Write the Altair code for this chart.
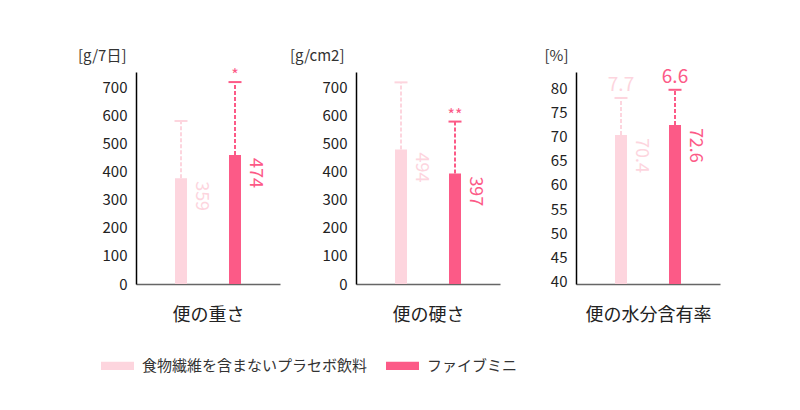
import altair as alt
import pandas as pd

groups = ["食物繊維を含まないプラセボ飲料", "ファイブミニ"]

weight_bar = [378, 461]
weight_top = [582, 721]
weight_lab = ["359", "474"]
weight_mark = ["", "*"]

hard_bar = [480, 395]
hard_top = [720, 580]
hard_lab = ["494", "397"]
hard_mark = ["", "**"]

water_bar = [70.4, 72.5]
water_top = [78.1, 79.8]
water_lab = ["70.4", "72.6"]
water_mark = ["7.7", "6.6"]

bar_colors = ["#fdd5de", "#fc5a87"]
text_colors = ["#fdd5de", "#f7739a"]
FONT = "Noto Sans CJK JP"


def panel(vals, tops, labs, marks, dom, ticks, unit, name, mark_size, mark_dy, title_x):
    df = pd.DataFrame({"group": groups, "value": vals, "top": tops,
                       "label": labs, "mark": marks})
    color = alt.Color("group:N", sort=groups,
                      scale=alt.Scale(domain=groups, range=bar_colors),
                      legend=alt.Legend(orient="none", legendX=-35, legendY=277,
                                        direction="horizontal", title=None,
                                        symbolType="M-1,-0.25H1V0.25H-1Z",
                                        symbolSize=1089, symbolOpacity=1,
                                        symbolStrokeWidth=0,
                                        labelFontSize=15,
                                        labelColor="#333", labelOffset=8,
                                        labelLimit=0,
                                        columnPadding=18, labelFont=FONT))
    tcolor = alt.Color("group:N", sort=groups,
                       scale=alt.Scale(domain=groups, range=text_colors),
                       legend=None)
    base = alt.Chart(df).encode(
        x=alt.X("group:N", sort=groups,
                scale=alt.Scale(paddingOuter=1 / 3, paddingInner=0),
                axis=alt.Axis(title=name, labels=False, ticks=False,
                              domainColor="#666", domainWidth=1.5,
                              titleFontSize=18, titleFontWeight="normal",
                              titleColor="#222", titlePadding=22, titleFont=FONT))
    )
    yax = alt.Axis(values=ticks, title=unit, titleAngle=0, titleAlign="right",
                   titleX=title_x, titleY=-12, titleBaseline="alphabetic",
                   titleFontSize=15, titleFontWeight="normal", titleColor="#333",
                   ticks=False, grid=False, labelPadding=9, domainColor="#000",
                   domainWidth=1.5, labelFontSize=15, labelColor="#222",
                   labelOverlap=False, labelFont=FONT, titleFont=FONT)
    ysc = alt.Scale(domain=dom, nice=False, zero=False)

    def Y(f):
        return alt.Y(f, scale=ysc, axis=yax)

    bars = base.mark_bar(size=12, opacity=1).encode(
        y=Y("value:Q"), y2=alt.datum(dom[0]), color=color)
    rule = base.mark_rule(strokeDash=[4, 2], strokeWidth=2).encode(
        y=Y("value:Q"), y2="top:Q", color=color)
    cap = base.mark_tick(size=13, thickness=2, opacity=1).encode(y=Y("top:Q"), color=color)
    vlab = base.mark_text(angle=90, align="left", baseline="middle", dx=3, dy=-20,
                          fontSize=18, font=FONT).encode(
        y=Y("value:Q"), text="label:N", color=tcolor)
    tlab = base.mark_text(baseline="alphabetic", dy=mark_dy, fontSize=mark_size,
                          font=FONT).encode(
        y=Y("top:Q"), text="mark:N", color=tcolor)
    return alt.layer(bars, rule, cap, vlab, tlab).properties(width=144, height=212)


p1 = panel(weight_bar, weight_top, weight_lab, weight_mark, [0, 757],
           list(range(0, 701, 100)), "[g/7日]", "便の重さ", 16, -1, -10)
p2 = panel(hard_bar, hard_top, hard_lab, hard_mark, [0, 757],
           list(range(0, 701, 100)), "[g/cm2]", "便の硬さ", 16, -1, -12)
p3 = panel(water_bar, water_top, water_lab, water_mark, [39.4, 83.5],
           list(range(40, 81, 5)), "[%]", "便の水分含有率", 19, -7, -8)

chart = alt.hconcat(p1, p2, p3, spacing=76, bounds="flush").resolve_scale(
    y="independent"
).properties(
    padding={"left": 69, "top": 40, "right": 5, "bottom": 5}
).configure(font=FONT, view=alt.ViewConfig(stroke=None))

chart.save("out.html", embed_options={"renderer": "svg", "actions": False})
